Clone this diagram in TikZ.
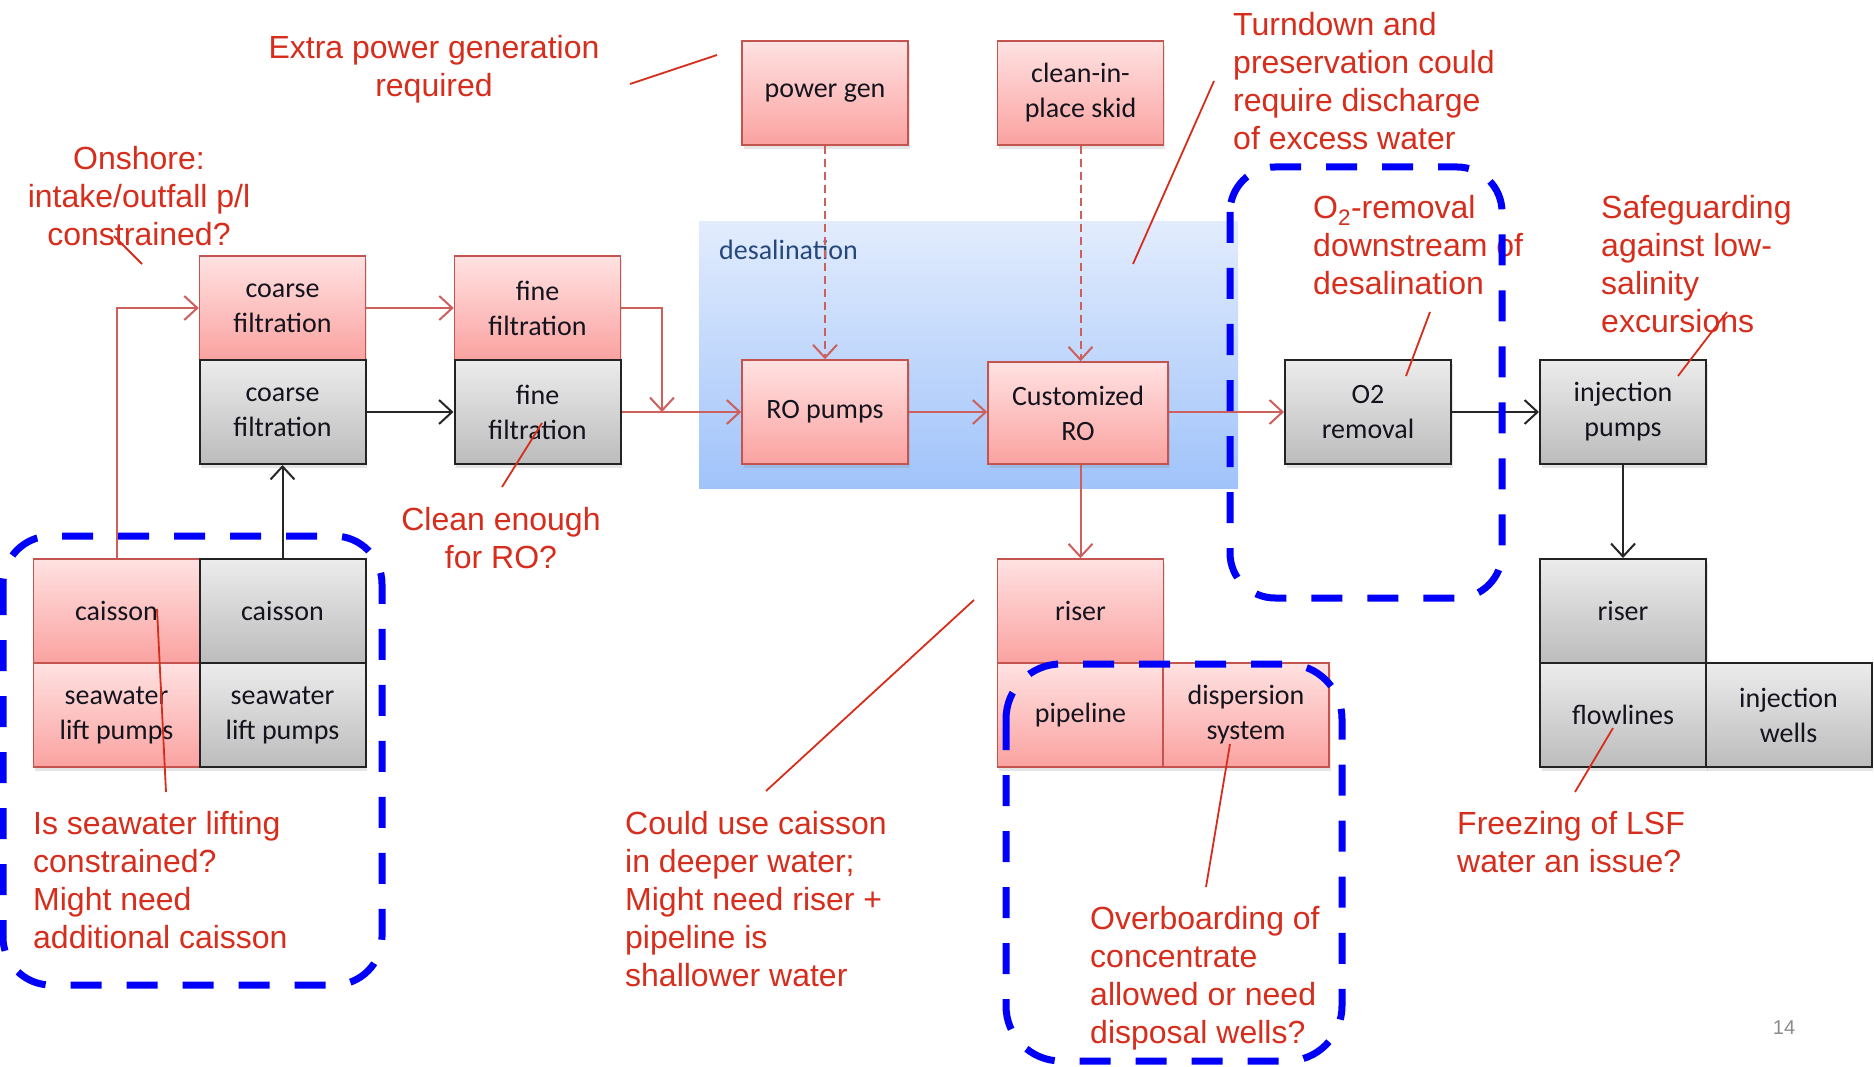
\documentclass[tikz,border=0pt]{standalone}
\usepackage{fontspec}
\setmainfont{Liberation Sans}
\newfontfamily\boxfont{Carlito}
\usetikzlibrary{arrows.meta,shadows,calc}
\definecolor{annred}{RGB}{214,45,28}
\definecolor{pinkTop}{RGB}{255,226,226}
\definecolor{pinkBot}{RGB}{250,162,160}
\definecolor{pinkBorder}{RGB}{196,84,80}
\definecolor{greyTop}{RGB}{236,236,236}
\definecolor{greyBot}{RGB}{188,188,188}
\definecolor{greyBorder}{RGB}{35,35,35}
\definecolor{boxtext}{RGB}{20,20,30}
\definecolor{connred}{RGB}{205,95,92}
\definecolor{desTop}{RGB}{226,236,253}
\definecolor{desBot}{RGB}{160,195,250}
\definecolor{desText}{RGB}{38,72,122}
\definecolor{dashblue}{RGB}{0,0,250}
\begin{document}
\begin{tikzpicture}[x=1pt,y=-1pt,
  box/.style={rectangle, minimum width=166pt, minimum height=104pt, inner sep=0pt, align=center,
    font=\boxfont\fontsize{28}{35}\selectfont, text=boxtext,
    drop shadow={opacity=0.2,shadow xshift=1.5pt,shadow yshift=-4pt}},
  pinkbox/.style={box, draw=pinkBorder, line width=1.5pt, top color=pinkTop, bottom color=pinkBot},
  greybox/.style={box, draw=greyBorder, line width=2pt, top color=greyTop, bottom color=greyBot},
  redarrow/.style={draw=connred, line width=2pt, -{Straight Barb[length=13pt,width=24pt,line width=2pt]}},
  dasharrow/.style={redarrow, dash pattern=on 8pt off 5pt},
  blackarrow/.style={draw=black!85, line width=2pt, -{Straight Barb[length=13pt,width=24pt,line width=2pt]}},
  ann/.style={text=annred, font=\fontsize{32}{38}\selectfont, inner sep=0pt},
  annline/.style={draw=annred, line width=1.8pt},
  group/.style={draw=dashblue, line width=7pt, dash pattern=on 31pt off 25pt},
]
\useasboundingbox (0,0) rectangle (1874,1067);
\fill[white] (0,0) rectangle (1874,1067);

% desalination area
\shade[top color=desTop, bottom color=desBot] (699,222) rectangle (1238,488);
\node[anchor=west, inner sep=0pt, font=\boxfont\fontsize{28}{34}\selectfont, text=desText] (dtxt) at (719,250) {desalination};

% boxes
\node[pinkbox] (cfp) at (282.5,308) {coarse\\filtration};
\node[greybox] (cfg) at (282.5,412) {coarse\\filtration};
\node[pinkbox] (ffp) at (537.5,308) {fine\\filtration};
\node[greybox] (ffg) at (537.5,412) {fine\\filtration};
\node[pinkbox] (pg) at (825,93) {power gen};
\node[pinkbox] (cip) at (1080.5,93) {clean-in-\\place skid};
\node[pinkbox] (rop) at (825,412) {RO pumps};
\node[pinkbox, minimum width=180pt, minimum height=102pt] (cro) at (1078,413) {Customized\\RO};
\node[greybox] (o2) at (1368,412) {O2\\removal};
\node[greybox] (ip) at (1623,412) {injection\\pumps};
\node[greybox] (rg) at (1623,611) {riser};
\node[greybox] (fl) at (1623,715) {flowlines};
\node[greybox] (iw) at (1788.5,715) {injection\\wells};
\node[pinkbox] (rp) at (1080.5,611) {riser};
\node[pinkbox] (pl) at (1080.5,715) {pipeline};
\node[pinkbox] (ds) at (1246,715) {dispersion\\system};
\node[pinkbox] (cap) at (116.5,611) {caisson};
\node[greybox] (cag) at (282.5,611) {caisson};
\node[pinkbox] (swp) at (116.5,715) {seawater\\lift pumps};
\node[greybox] (swg) at (282.5,715) {seawater\\lift pumps};

% connectors
\coordinate (j) at (662,412);
\draw[redarrow] (cap.north) |- (cfp.west);
\draw[redarrow] (cfp.east) -- (ffp.west);
\draw[redarrow] (ffp.east) -| (j);
\draw[redarrow] (ffg.east) -- (rop.west);
\draw[redarrow] (rop.east) -- (rop.east -| cro.west);
\draw[redarrow] (cro.east |- o2.west) -- (o2.west);
\draw[redarrow] (cip.south |- cro.south) -- (rp.north);
\draw[dasharrow] (pg.south) -- (rop.north);
\draw[dasharrow] (cip.south) -- (cip.south |- cro.north);
\draw[blackarrow] (cag.north) -- (cfg.south);
\draw[blackarrow] (cfg.east) -- (ffg.west);
\draw[blackarrow] (o2.east) -- (ip.west);
\draw[blackarrow] (ip.south) -- (rg.north);

% annotations
\node[ann, anchor=north, align=center] (a1) at (434,35) {Extra power generation\\required};
\node[ann, anchor=north, align=center] (a2) at (139,146) {Onshore:\\intake/outfall p/l\\constrained?};
\node[ann, anchor=north west, align=left] (a3) at (1233,12) {Turndown and\\preservation could\\require discharge\\of excess water};
\node[ann, anchor=north west, align=left] (a4) at (1313,195) {O\textsubscript{2}-removal\\downstream of\\desalination};
\node[ann, anchor=north west, align=left] (a5) at (1601,195) {Safeguarding\\against low-\\salinity\\excursions};
\node[ann, anchor=north, align=center] (a6) at (501,507) {Clean enough\\for RO?};
\node[ann, anchor=north west, align=left] (a7) at (33,811) {Is seawater lifting\\constrained?\\Might need\\additional caisson};
\node[ann, anchor=north west, align=left] (a8) at (625,811) {Could use caisson\\in deeper water;\\Might need riser +\\pipeline is\\shallower water};
\node[ann, anchor=north west, align=left] (a9) at (1090,906) {Overboarding of\\concentrate\\allowed or need\\disposal wells?};
\node[ann, anchor=north west, align=left] (a10) at (1457,811) {Freezing of LSF\\water an issue?};
\node[text=black!45, font=\fontsize{20}{24}\selectfont, inner sep=0pt] (pnum) at (1784,1028) {14};

% annotation leader lines
\coordinate (l1a) at (630,84);   \coordinate (l1b) at (717,55);
\coordinate (l2a) at (114,236);  \coordinate (l2b) at (142,264);
\coordinate (l3a) at (1214,81);  \coordinate (l3b) at (1133,264);
\coordinate (l4a) at (1430,312); \coordinate (l4b) at (1406,376);
\coordinate (l5a) at (1727,312); \coordinate (l5b) at (1678,376);
\coordinate (l6a) at (502,487);  \coordinate (l6b) at (542,423);
\coordinate (l7a) at (157,609);  \coordinate (l7b) at (166,792);
\coordinate (l8a) at (766,791);  \coordinate (l8b) at (974,600);
\coordinate (l9a) at (1230,744); \coordinate (l9b) at (1206,887);
\coordinate (l10a) at (1613,728); \coordinate (l10b) at (1575,792);
\draw[annline] (l1a) -- (l1b);
\draw[annline] (l2a) -- (l2b);
\draw[annline] (l3a) -- (l3b);
\draw[annline] (l4a) -- (l4b);
\draw[annline] (l5a) -- (l5b);
\draw[annline] (l6a) -- (l6b);
\draw[annline] (l7a) -- (l7b);
\draw[annline] (l8a) -- (l8b);
\draw[annline] (l9a) -- (l9b);
\draw[annline] (l10a) -- (l10b);

% blue dashed groups
\draw[group, rounded corners=48pt] (3,536) rectangle (382,985);
\draw[group, rounded corners=45pt] (1230,167) rectangle (1502,598);
\draw[group, rounded corners=55pt] (1006,664) rectangle (1342,1061);
\end{tikzpicture}
\end{document}
